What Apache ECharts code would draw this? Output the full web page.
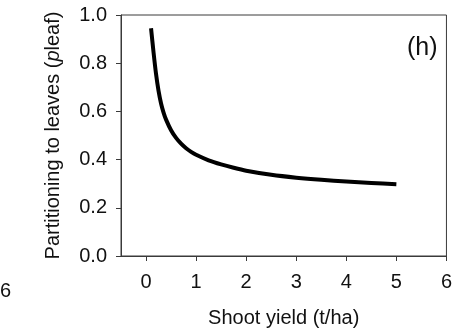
<!DOCTYPE html>
<html>
<head>
<meta charset="utf-8">
<script src="https://cdn.jsdelivr.net/npm/echarts@6/dist/echarts.min.js"></script>
<style>
html,body{margin:0;padding:0;background:#fff;}
#c{width:455px;height:333px;}
</style>
</head>
<body>
<div id="c"></div>
<script>
// Data
var shootYield = [0.1, 0.15, 0.2, 0.25, 0.3, 0.35, 0.4, 0.5, 0.6, 0.7, 0.8, 0.9, 1.0, 1.25, 1.5, 1.75, 2.0, 2.5, 3.0, 3.5, 4.0, 4.5, 5.0];
var pLeaf      = [0.945, 0.845, 0.755, 0.685, 0.633, 0.595, 0.566, 0.522, 0.49, 0.466, 0.447, 0.432, 0.42, 0.397, 0.38, 0.366, 0.354, 0.337, 0.325, 0.316, 0.309, 0.303, 0.298];
var xTicks = [0, 1, 2, 3, 4, 5, 6];

var font = '"Liberation Sans", Arial, sans-serif';
var axisColor = '#3a3a3a';
var textColor = '#111';

var chart = echarts.init(document.getElementById('c'), null, {renderer: 'canvas'});
chart.setOption({
  animation: false,
  backgroundColor: '#fff',
  grid: {
    left: 121, top: 15, right: 7, bottom: 72,
    show: true, borderColor: axisColor, borderWidth: 1, backgroundColor: 'transparent'
  },
  xAxis: {
    type: 'value',
    min: -0.5, max: 6,
    name: 'Shoot yield (t/ha)',
    nameLocation: 'middle',
    nameGap: 52,
    nameTextStyle: {fontFamily: font, fontSize: 20, color: textColor},
    axisLine: {show: true, onZero: false, lineStyle: {color: axisColor, width: 1}},
    axisTick: {show: true, inside: false, length: 5, customValues: xTicks, lineStyle: {color: axisColor}},
    axisLabel: {customValues: xTicks, fontFamily: font, fontSize: 20, color: textColor, margin: 16},
    splitLine: {show: false}
  },
  yAxis: {
    type: 'value',
    min: 0, max: 1, interval: 0.2,
    name: '{n|Partitioning to leaves (}{i|p}{n|leaf)}',
    nameLocation: 'middle',
    nameRotate: 90,
    nameGap: 58,
    nameTextStyle: {
      fontFamily: font, fontSize: 20, color: textColor,
      rich: {
        n: {fontFamily: font, fontSize: 20, color: textColor},
        i: {fontFamily: font, fontSize: 20, color: textColor, fontStyle: 'italic'}
      }
    },
    axisLine: {show: true, onZero: false, lineStyle: {color: axisColor, width: 1}},
    axisTick: {show: true, inside: false, length: 5, lineStyle: {color: axisColor}},
    axisLabel: {
      fontFamily: font, fontSize: 20, color: textColor, margin: 14,
      formatter: function (v) { return v.toFixed(1); }
    },
    splitLine: {show: false}
  },
  graphic: [
    {type: 'text', left: 0, top: 281, style: {text: '6', font: '20px ' + font, fill: textColor}},
    {type: 'text', left: 407, top: 36, style: {text: '(h)', font: '25px ' + font, fill: textColor}}
  ],
  series: [{
    type: 'line',
    data: shootYield.map(function (x, i) { return [x, pLeaf[i]]; }),
    smooth: 0.25,
    showSymbol: false,
    symbol: 'none',
    lineStyle: {color: '#000', width: 4, cap: 'butt', join: 'round'}
  }]
});
</script>
</body>
</html>
